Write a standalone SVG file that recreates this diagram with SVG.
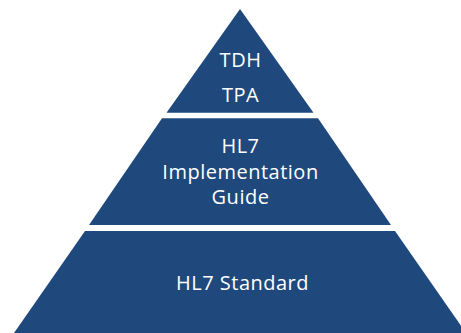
<svg xmlns="http://www.w3.org/2000/svg" width="461" height="333" viewBox="0 0 461 333">
<style>
.tier{fill:#1F497D;}
.lbl{fill:#FFFFFF;font-family:"Open Sans","Noto Sans",sans-serif;font-size:20px;letter-spacing:0.5px;text-anchor:middle;}
</style>
<rect width="461" height="333" fill="#FFFFFF"/>
<g id="tier-top">
<polygon class="tier" points="240,9 313.5,112.7 166.5,112.7"/>
<text class="lbl" x="240.5" y="66.5">TDH</text>
<text class="lbl" x="240.5" y="101.5">TPA</text>
</g>
<g id="tier-middle">
<polygon class="tier" points="162,118.3 318,118.3 391,225 89,225"/>
<text class="lbl" x="240.5" y="153">HL7</text>
<text class="lbl" x="240.5" y="178.5">Implementation</text>
<text class="lbl" x="240.5" y="204">Guide</text>
</g>
<g id="tier-bottom">
<polygon class="tier" points="85,231 395,231 466,333 14,333"/>
<text class="lbl" x="242.5" y="290">HL7 Standard</text>
</g>
<g id="connectors"/>
</svg>
